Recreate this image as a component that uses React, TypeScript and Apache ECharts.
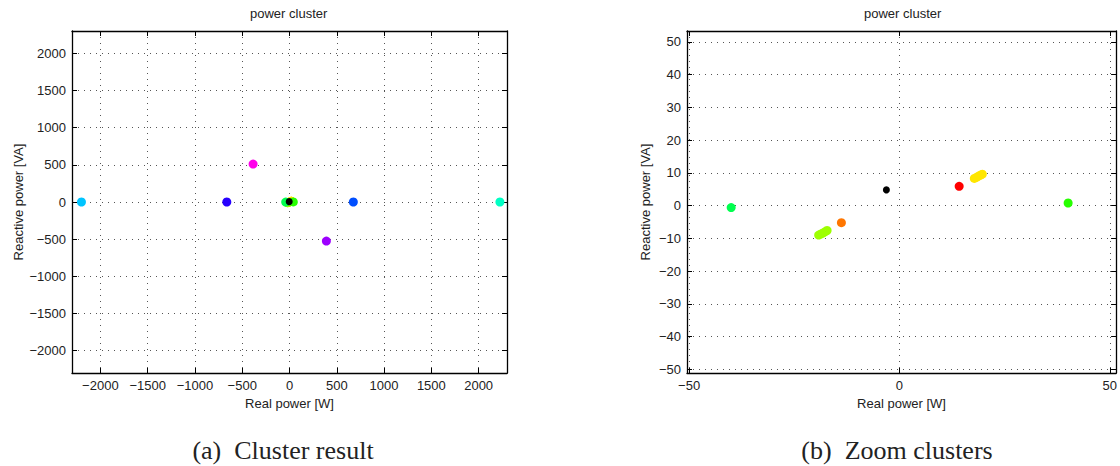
import React, { useEffect, useRef } from "react";
import * as echarts from "echarts";

// ---- data: cluster centres / points (Real power [W], Reactive power [VA]) ----
const redPts = [[14.2, 5.9]];
const orangePts = [[-13.8, -5.2]];
const yellowPts = [[17.8, 8.3], [18.3, 8.6], [18.8, 9.0], [19.3, 9.3], [19.7, 9.6]];
const yellowGreenPts = [[-19.2, -9.0], [-18.7, -8.7], [-18.2, -8.4], [-17.7, -8.0], [-17.2, -7.6]];
const greenPts = [[40.1, 0.8]];
const springGreenPts = [[-40.0, -0.6]];
const tealPts = [[2225, 0]];
const cyanPts = [[-2200, 0]];
const bluePts = [[675, 0]];
const violetPts = [[-663, 0]];
const purplePts = [[390, -525]];
const magentaPts = [[-385, 510]];
const blackPts = [[-3.1, 4.8]];

const clusterPoints = [
  redPts, orangePts, yellowPts, yellowGreenPts, greenPts, springGreenPts,
  tealPts, cyanPts, bluePts, violetPts, purplePts, magentaPts, blackPts,
];
const clusterColors = [
  "#ff0000", "#ff7600", "#ffe600", "#9dff00", "#27ff00", "#00ff4e",
  "#00ffc4", "#00c4ff", "#004eff", "#2700ff", "#9d00ff", "#ff00eb", "#000000",
];

// ---- tick labels ----
const leftXTicks = [-2000, -1500, -1000, -500, 0, 500, 1000, 1500, 2000];
const leftYTicks = [-2000, -1500, -1000, -500, 0, 500, 1000, 1500, 2000];
const rightXTicks = [-50, 0, 50];
const rightYTicks = [-50, -40, -30, -20, -10, 0, 10, 20, 30, 40, 50];

const titleText = "power cluster";
const xName = "Real power [W]";
const yName = "Reactive power [VA]";
const captionA = "(a)\u2002Cluster result";
const captionB = "(b)\u2002Zoom clusters";

const SANS = "'Liberation Sans', Arial, sans-serif";
const SERIF = "'Liberation Serif', 'Times New Roman', serif";
const fmt = (v: number) => String(v).replace("-", "\u2212");

function mainAxis(gridIndex: number, min: number, max: number, ticks: number[], pos: string, name: string, nameGap: number) {
  return {
    type: "value",
    gridIndex,
    min,
    max,
    position: pos,
    name,
    nameLocation: "middle",
    nameGap,
    nameTextStyle: { fontFamily: SANS, fontSize: 13, color: "#222" },
    axisLine: { show: true, onZero: false, lineStyle: { color: "#000", width: 1.3 } },
    axisTick: { show: true, inside: true, length: 5, customValues: ticks, lineStyle: { color: "#000", width: 1 } },
    axisLabel: { show: true, customValues: ticks, formatter: fmt, fontFamily: SANS, fontSize: 13, color: "#222", margin: 6 },
    splitLine: { show: true, lineStyle: { color: "#555", width: 1, type: [1, 5] } },
  };
}
function boxAxis(gridIndex: number, min: number, max: number, ticks: number[], pos: string) {
  return {
    type: "value",
    gridIndex,
    min,
    max,
    position: pos,
    axisLine: { show: true, onZero: false, lineStyle: { color: "#000", width: 1.3 } },
    axisTick: { show: true, inside: true, length: 5, customValues: ticks, lineStyle: { color: "#000", width: 1 } },
    axisLabel: { show: false },
    splitLine: { show: false },
  };
}

export default function App() {
  const ref = useRef<HTMLDivElement>(null);
  useEffect(() => {
    if (!ref.current) return;
    const chart = echarts.init(ref.current, null, { renderer: "svg" });
    const series: any[] = [];
    [0, 1].forEach((g) => {
      clusterPoints.forEach((pts, i) => {
        const isBlack = i === clusterPoints.length - 1;
        series.push({
          type: "scatter",
          xAxisIndex: g * 2,
          yAxisIndex: g * 2,
          data: pts,
          symbol: "circle",
          symbolSize: isBlack ? 7 : 9,
          itemStyle: { color: clusterColors[i], opacity: 1 },
          clip: true,
          z: 3,
        });
      });
    });
    chart.setOption({
      animation: false,
      backgroundColor: "#fff",
      grid: [
        { left: 72, top: 31, width: 435, height: 342 },
        { left: 687, top: 31, width: 432, height: 342 },
      ],
      xAxis: [
        mainAxis(0, -2300, 2300, leftXTicks, "bottom", xName, 21),
        boxAxis(0, -2300, 2300, leftXTicks, "top"),
        mainAxis(1, -50.5, 51.5, rightXTicks, "bottom", xName, 21),
        boxAxis(1, -50.5, 51.5, rightXTicks, "top"),
      ],
      yAxis: [
        mainAxis(0, -2300, 2300, leftYTicks, "left", yName, 47),
        boxAxis(0, -2300, 2300, leftYTicks, "right"),
        mainAxis(1, -51.1, 53.3, rightYTicks, "left", yName, 35),
        boxAxis(1, -51.1, 53.3, rightYTicks, "right"),
      ],
      graphic: [
        { type: "text", left: 289 - 39, top: 7, style: { text: titleText, font: `13px ${SANS}`, fill: "#222" } },
        { type: "text", left: 903 - 39, top: 7, style: { text: titleText, font: `13px ${SANS}`, fill: "#222" } },
        { type: "text", x: 283, y: 450, style: { text: captionA, font: `26px ${SERIF}`, fill: "#222", align: "center", verticalAlign: "middle" } },
        { type: "text", x: 897, y: 450, style: { text: captionB, font: `26px ${SERIF}`, fill: "#222", align: "center", verticalAlign: "middle" } },
      ],
      series,
    });
    return () => chart.dispose();
  }, []);
  return <div ref={ref} style={{ position: "fixed", left: 0, top: 0, width: 1120, height: 466 }} />;
}
